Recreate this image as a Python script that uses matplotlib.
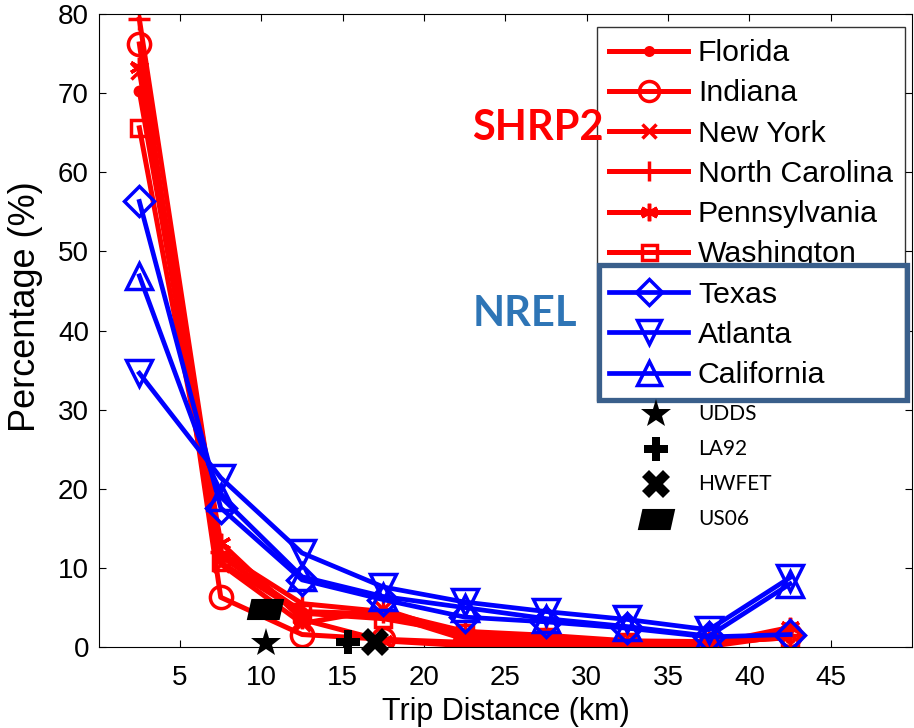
import matplotlib
matplotlib.use("Agg")
import matplotlib.pyplot as plt
import numpy as np
from matplotlib.path import Path
from matplotlib.patches import Rectangle

# trip distance bins (km), bin centres
dist = [2.5, 7.5, 12.5, 17.5, 22.5, 27.5, 32.5, 37.5, 42.5]

# SHRP2 states
florida = [70.2, 11.5, 4.5, 4.2, 1.0, 0.8, 0.5, 0.6, 1.2]
indiana = [76.2, 6.3, 1.6, 1.0, 0.6, 0.5, 0.1, 0.1, 1.5]
new_york = [72.8, 10.5, 3.0, 4.8, 1.5, 1.0, 0.6, 0.5, 1.8]
north_carolina = [79.3, 12.0, 5.5, 4.5, 2.0, 1.5, 0.8, 0.7, 1.5]
pennsylvania = [73.3, 13.2, 3.5, 0.8, 0.2, 0.3, 0.3, 0.4, 2.5]
washington = [65.6, 10.7, 4.3, 3.6, 1.8, 1.3, 0.7, 0.6, 1.2]

# NREL
texas = [56.3, 17.6, 8.5, 6.0, 3.8, 3.2, 2.4, 1.3, 1.6]
atlanta = [34.6, 21.4, 11.9, 7.6, 5.7, 4.5, 3.5, 2.2, 8.8]
california = [46.9, 19.0, 8.9, 6.4, 5.0, 3.6, 2.6, 1.4, 8.0]

# standard drive cycles (distance km, percentage)
cycles = ["UDDS", "LA92", "HWFET", "US06"]
cycle_dist = [10.3, 15.3, 17.0, 10.2]
cycle_pct = [0.5, 0.7, 0.7, 4.8]

# parallelogram marker for US06
para = Path([(-0.8, -0.45), (0.6, -0.45), (0.8, 0.45), (-0.6, 0.45), (-0.8, -0.45)],
            [Path.MOVETO, Path.LINETO, Path.LINETO, Path.LINETO, Path.CLOSEPOLY])
cycle_markers = ["*", "P", "X", para]
cycle_ms = [22, 17, 20, 27]

plt.rcParams['font.family'] = ['Liberation Sans', 'DejaVu Sans']

fig = plt.figure(figsize=(9.14, 7.28), dpi=100)
ax = fig.add_axes([0.108, 0.111, 0.89, 0.870])

red_series = [("Florida", florida, "."), ("Indiana", indiana, "o"),
              ("New York", new_york, "x"), ("North Carolina", north_carolina, "+"),
              ("Pennsylvania", pennsylvania, (6, 2, 0)), ("Washington", washington, "s")]
blue_series = [("Texas", texas, "D"), ("Atlanta", atlanta, "v"), ("California", california, "^")]

msize = {".": 12, "o": 16, "x": 11, "+": 16, "s": 12, "D": 15, "v": 19, "^": 19}
for name, vals, m in red_series:
    ms = msize.get(m, 14) if not isinstance(m, tuple) else 14
    ax.plot(dist, vals, color="red", lw=3.6, marker=m, ms=ms, mew=2.5,
            mfc="none", label=name)
for name, vals, m in blue_series:
    ax.plot(dist, vals, color="blue", lw=3.4, marker=m, ms=msize[m], mew=2.5,
            mfc="none", label=name)

for d, p, m, s in zip(cycle_dist, cycle_pct, cycle_markers, cycle_ms):
    ax.plot(d, p, marker=m, color="black", ms=s, mew=0, ls="none", clip_on=False, zorder=5)

ax.set_xlim(0, 50)
ax.set_ylim(0, 80)
ax.set_xticks([5, 10, 15, 20, 25, 30, 35, 40, 45])
ax.set_yticks(range(0, 81, 10))
ax.tick_params(direction="in", top=True, right=True, length=5, labelsize=20, pad=7)
ax.tick_params(axis="x", pad=13)
ax.set_xlabel("Trip Distance (km)", fontsize=22, labelpad=4)
ax.set_ylabel("Percentage (%)", fontsize=26, labelpad=6)
ax.yaxis.set_label_coords(-0.068, 0.537)

leg = ax.legend(loc="upper right", bbox_to_anchor=(905 / 914, 1 - 27 / 728),
                bbox_transform=fig.transFigure, borderaxespad=0,
                fontsize=21.8, frameon=True, fancybox=False,
                edgecolor="black", handlelength=2.6, handletextpad=0.33,
                labelspacing=0.405, borderpad=0.4, markerscale=0.9)
leg.get_frame().set_linewidth(1)

# group labels
fig.text(0.517, 0.824, "SHRP2", color="red", fontsize=30, fontweight="bold",
         family=["Lato", "DejaVu Sans"], ha="left", va="center")
fig.text(0.517, 0.569, "NREL", color="#2E75B6", fontsize=30, fontweight="bold",
         family=["Lato", "DejaVu Sans"], ha="left", va="center")

# box around the NREL legend entries
fig.patches.append(Rectangle((0.655, 0.450), 0.337, 0.186, transform=fig.transFigure,
                             fill=False, edgecolor="#3A5F8B", lw=3.8))

# drive cycle key
for i, (name, m, s) in enumerate(zip(cycles, cycle_markers, cycle_ms)):
    yk = 0.432 - i * 0.0485
    fig.lines.append(plt.Line2D([0.718], [yk], marker=m, color="black", ms=s, mew=0,
                                transform=fig.transFigure))
    fig.text(0.764, yk, name, fontsize=15, family=["Lato", "DejaVu Sans"],
             ha="left", va="center")

fig.savefig("out.png", dpi=100)
